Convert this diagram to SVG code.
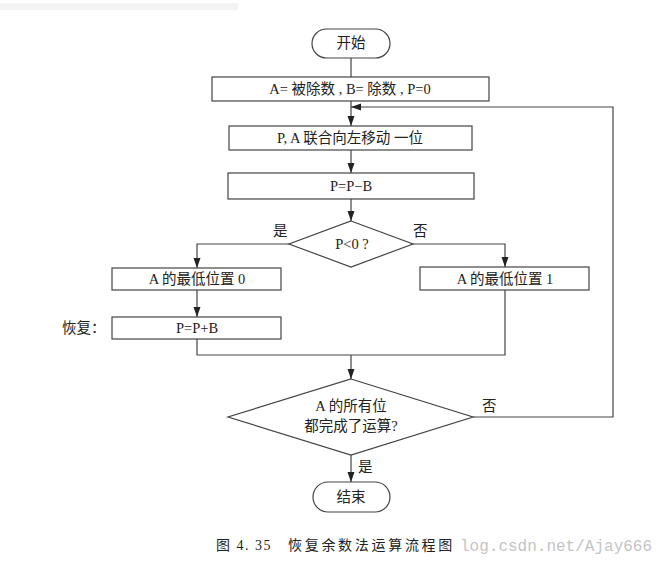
<svg xmlns="http://www.w3.org/2000/svg" width="666" height="564" viewBox="0 0 666 564">
<style>
.box{fill:#fff;stroke:#444;stroke-width:1.2}
.ln{fill:none;stroke:#444;stroke-width:1.2}
text{font-family:"Liberation Serif","Noto Sans CJK SC",serif;font-size:14.5px;fill:#222;text-anchor:middle}
.lbl{text-anchor:start}
.cap{text-anchor:start;font-size:14px}
.wm{font-family:"Liberation Mono",monospace;font-size:16px;fill:#c4c4c4;text-anchor:start}
</style>
<defs>
<marker id="ar" viewBox="0 0 10 10" refX="10" refY="5" markerWidth="10" markerHeight="10" markerUnits="userSpaceOnUse" orient="auto">
<path d="M0,1.5 L10,5 L0,8.5 Z" fill="#222"/>
</marker>
</defs>
<rect x="0" y="3" width="238" height="7" fill="#f4f4f4"/>
<g id="connectors">
<line class="ln" x1="351" y1="58" x2="351" y2="77"/>
<line class="ln" x1="351" y1="101" x2="351" y2="126" marker-end="url(#ar)"/>
<line class="ln" x1="351" y1="150" x2="351" y2="173" marker-end="url(#ar)"/>
<line class="ln" x1="351" y1="199" x2="351" y2="221" marker-end="url(#ar)"/>
<polyline class="ln" points="289,244 197,244 197,268" marker-end="url(#ar)"/>
<polyline class="ln" points="413,244 505,244 505,267" marker-end="url(#ar)"/>
<line class="ln" x1="197" y1="290" x2="197" y2="317" marker-end="url(#ar)"/>
<polyline class="ln" points="197,339 197,355 505,355 505,290"/>
<line class="ln" x1="351" y1="355" x2="351" y2="379" marker-end="url(#ar)"/>
<line class="ln" x1="351" y1="455" x2="351" y2="482" marker-end="url(#ar)"/>
<polyline class="ln" points="473,417 613,417 613,107 351,107" marker-end="url(#ar)"/>
</g>
<g id="start">
<rect class="box" x="312" y="29" width="78" height="29" rx="14.5"/>
<text x="351" y="48">开始</text>
</g>
<g id="init">
<rect class="box" x="212" y="77" width="277" height="24"/>
<text x="350" y="94">A= 被除数 , B= 除数 , P=0</text>
</g>
<g id="shift">
<rect class="box" x="229" y="126" width="243" height="24"/>
<text x="350" y="143">P, A 联合向左移动 一位</text>
</g>
<g id="sub">
<rect class="box" x="228" y="173" width="246" height="26"/>
<text x="351" y="191">P=P−B</text>
</g>
<g id="cond1">
<polygon class="box" points="351,221 413,244 351,267 289,244"/>
<text x="352" y="249">P&lt;0 ?</text>
<text class="lbl" x="273" y="236">是</text>
<text class="lbl" x="413" y="236">否</text>
</g>
<g id="set0">
<rect class="box" x="112" y="268" width="169" height="22"/>
<text x="197" y="284">A 的最低位置 0</text>
</g>
<g id="restore">
<rect class="box" x="112" y="317" width="169" height="22"/>
<text x="197" y="333">P=P+B</text>
<text class="lbl" x="62" y="333">恢复：</text>
</g>
<g id="set1">
<rect class="box" x="420" y="267" width="169" height="23"/>
<text x="505" y="284">A 的最低位置 1</text>
</g>
<g id="cond2">
<polygon class="box" points="351,379 473,417 351,455 228,417"/>
<text x="351" y="411">A 的所有位</text>
<text x="351" y="431">都完成了运算?</text>
<text class="lbl" x="482" y="411">否</text>
<text class="lbl" x="358" y="472">是</text>
</g>
<g id="end">
<rect class="box" x="313" y="482" width="77" height="30" rx="15"/>
<text x="351" y="502">结束</text>
</g>
<text class="cap" x="216" y="550"><tspan letter-spacing="1.5">图 4. 35</tspan><tspan x="288" letter-spacing="2.7">恢复余数法运算流程图</tspan></text>
<text class="wm" x="460" y="551">log.csdn.net/Ajay666</text>
</svg>
